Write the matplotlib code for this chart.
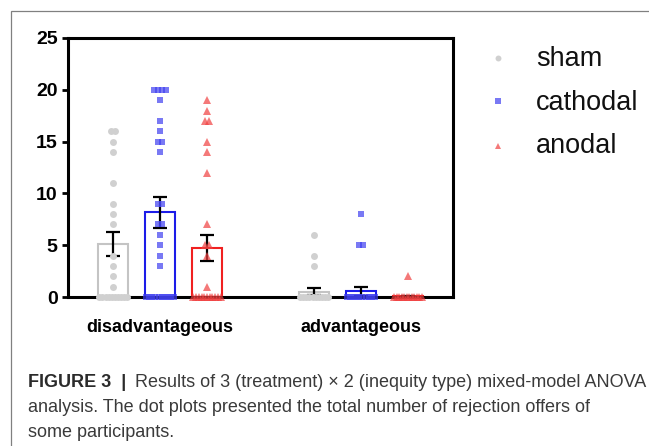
import numpy as np
import matplotlib
matplotlib.use('Agg')
import matplotlib.pyplot as plt
from matplotlib.lines import Line2D
from matplotlib.patches import Rectangle

plt.rcParams['font.family'] = ['Liberation Sans', 'DejaVu Sans']

# ---- data ----
groups = ['disadvantageous', 'advantageous']
treatments = ['sham', 'cathodal', 'anodal']

sham_mean = [5.1, 0.5]
cathodal_mean = [8.2, 0.55]
anodal_mean = [4.7, 0.05]
sham_sem = [1.15, 0.33]
cathodal_sem = [1.5, 0.42]
anodal_sem = [1.25, 0.03]

sham_dis = [16, 16, 15, 14, 11, 9, 8, 7, 4, 3, 2, 1, 0, 0, 0, 0, 0, 0, 0, 0, 0, 0]
cathodal_dis = [20, 20, 20, 20, 19, 17, 16, 15, 15, 14, 9, 9, 7, 7, 6, 5, 4, 3,
                0, 0, 0, 0, 0, 0, 0, 0, 0, 0]
anodal_dis = [19, 18, 17, 17, 15, 14, 12, 7, 5, 5, 4, 1,
              0, 0, 0, 0, 0, 0, 0, 0, 0, 0, 0]
sham_adv = [6, 4, 3, 0, 0, 0, 0, 0, 0, 0, 0, 0, 0]
cathodal_adv = [8, 5, 5, 0, 0, 0, 0, 0, 0, 0, 0, 0, 0]
anodal_adv = [2, 0, 0, 0, 0, 0, 0, 0, 0, 0, 0, 0, 0]

# ---- style ----
bar_cols = {'sham': '#c4c4c4', 'cathodal': '#1c1ce8', 'anodal': '#f02020'}
pt_cols = {'sham': '#d0d0d0', 'cathodal': '#4040f0', 'anodal': '#f04040'}
pt_alpha = {'sham': 1.0, 'cathodal': 0.7, 'anodal': 0.7}
markers = {'sham': 'o', 'cathodal': 's', 'anodal': '^'}
msizes = {'sham': 5.0, 'cathodal': 4.6, 'anodal': 5.6}

W, H = 649, 446
fig = plt.figure(figsize=(W / 100, H / 100), dpi=100)
ax = fig.add_axes([68 / W, 1 - 297 / H, 385 / W, 259 / H])

# figure frame (only left/top visible in the crop)
fig.add_artist(Rectangle((11 / W, -0.1), 1.2, 1 - 11 / H + 0.1, transform=fig.transFigure,
                         fill=False, edgecolor='#808080', lw=0.9))


def spread(vals, step=0.09, maxw=0.58):
    # horizontal spread for equal values (dot-plot style)
    vals = np.asarray(vals, dtype=float)
    xs = np.zeros_like(vals)
    for v in np.unique(vals):
        idx = np.where(vals == v)[0]
        k = len(idx)
        if k > 1:
            s = min(step, maxw / (k - 1))
            xs[idx] = (np.arange(k) - (k - 1) / 2) * s
    return xs


means = {'sham': sham_mean, 'cathodal': cathodal_mean, 'anodal': anodal_mean}
sems = {'sham': sham_sem, 'cathodal': cathodal_sem, 'anodal': anodal_sem}
points = {'sham': [sham_dis, sham_adv], 'cathodal': [cathodal_dis, cathodal_adv],
          'anodal': [anodal_dis, anodal_adv]}

group_pos = [1.0, 5.28]
bw = 0.64
for g, gx in enumerate(group_pos):
    for i, t in enumerate(treatments):
        x = gx + (i - 1)
        ax.bar(x, means[t][g], width=bw, facecolor='none', edgecolor=bar_cols[t],
               linewidth=1.5, zorder=2)
        ax.errorbar(x, means[t][g], yerr=sems[t][g], color='black', lw=1.6,
                    capsize=5, capthick=1.6, zorder=3)
        vals = points[t][g]
        ax.plot(x + spread(vals), vals, linestyle='none', marker=markers[t],
                markersize=msizes[t], color=pt_cols[t], alpha=pt_alpha[t],
                markeredgewidth=0, clip_on=False, zorder=4)

ax.set_xlim(-0.96, 7.24)
ax.set_ylim(0, 25)
ax.set_yticks([0, 5, 10, 15, 20, 25])
ax.set_xticks(group_pos)
ax.set_xticklabels(groups, fontsize=13, fontweight='bold')
ax.tick_params(axis='x', length=0, pad=16)
ax.tick_params(axis='y', length=4, width=2, pad=3.5, labelsize=14)
for lab in ax.get_yticklabels():
    lab.set_fontweight('bold')
for sp in ax.spines.values():
    sp.set_linewidth(2.2)

# legend on the right
leg_y = [58, 101, 146]
base_y = [66, 110, 153]
for t, my, by in zip(treatments, leg_y, base_y):
    fig.add_artist(Line2D([498 / W], [1 - my / H], transform=fig.transFigure,
                          marker=markers[t], markersize=msizes[t] * 0.85, linestyle='none',
                          color=pt_cols[t], alpha=pt_alpha[t], markeredgewidth=0))
    fig.text(536 / W, 1 - by / H, t, fontsize=19.5, va='baseline', ha='left', color='#111111')

# caption
fig.text(28 / W, 1 - 387 / H, 'FIGURE 3  |', fontsize=13, fontweight='bold',
         color='#2b2b2b', va='baseline')
fig.text(135 / W, 1 - 387 / H,
         'Results of 3 (treatment) \u00d7 2 (inequity type) mixed-model ANOVA',
         fontsize=13, color='#3a3a3a', va='baseline')
fig.text(28 / W, 1 - 412 / H,
         'analysis. The dot plots presented the total number of rejection offers of',
         fontsize=13, color='#3a3a3a', va='baseline')
fig.text(28 / W, 1 - 437 / H, 'some participants.', fontsize=13, color='#3a3a3a',
         va='baseline')

fig.savefig('out.png', dpi=100)
